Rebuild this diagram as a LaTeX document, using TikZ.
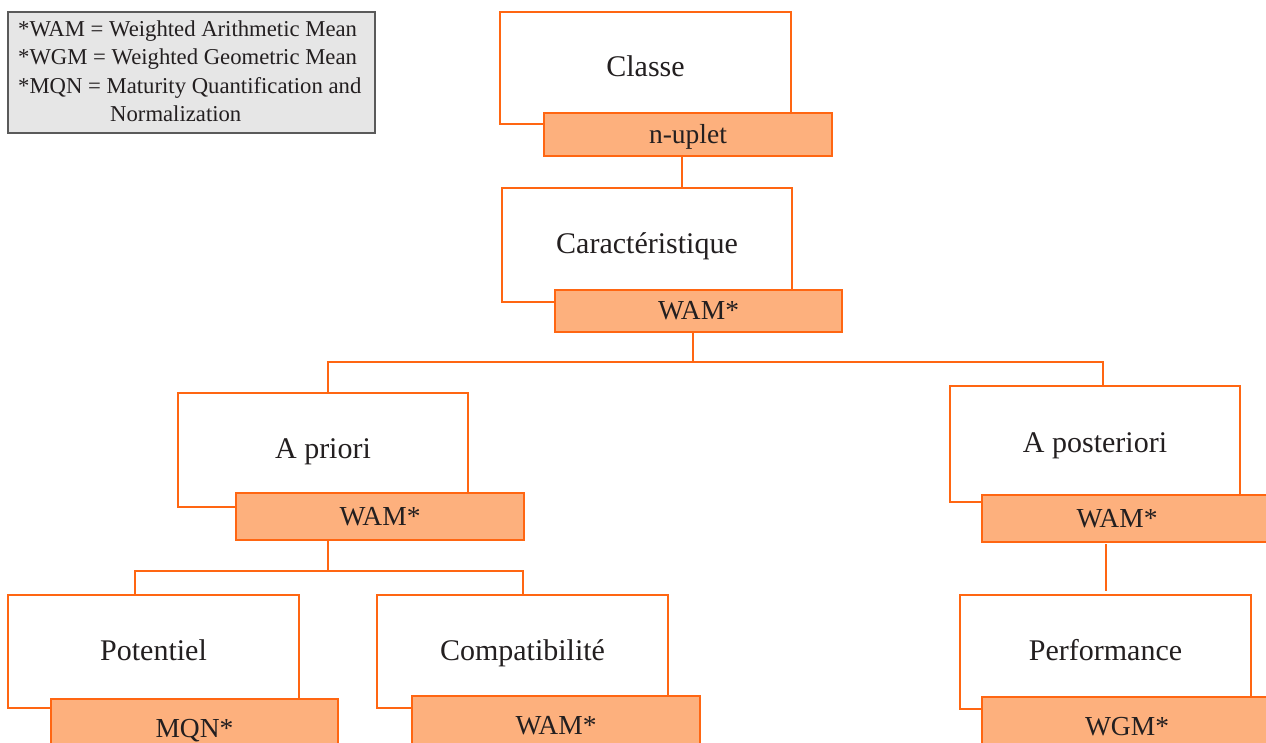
\documentclass[tikz,border=0pt]{standalone}
\usepackage{fontspec}
\setmainfont{Liberation Serif}
\definecolor{org}{HTML}{FF6612}
\definecolor{tabfill}{HTML}{FDB07D}
\definecolor{legfill}{HTML}{E6E6E6}
\definecolor{legline}{HTML}{5A5A5A}
\definecolor{txt}{HTML}{231F20}
\tikzset{
  box/.style={draw=org, line width=2.4pt, fill=white, inner sep=0pt, outer sep=0pt,
    text=txt, font=\fontsize{30}{33}\selectfont, text height=19pt, text depth=2pt},
  tab/.style={draw=org, line width=2.4pt, fill=tabfill, inner sep=0pt, outer sep=0pt,
    text=txt, font=\fontsize{27.5}{30}\selectfont, text height=19pt, text depth=2pt},
  conn/.style={draw=org, line width=2.4pt},
  legtext/.style={anchor=base west, inner sep=0pt, text=txt, font=\fontsize{22.7}{28}\selectfont},
}
\begin{document}
\begin{tikzpicture}[x=1pt,y=-1pt]
\useasboundingbox (0,0) rectangle (1266,742);
\clip (0,0) rectangle (1266,742);

% legend
\node[draw=legline, line width=1.5pt, fill=legfill, minimum width=367pt, minimum height=121pt, inner sep=0pt] (leg) at (191.5,72.5) {};
\node[legtext] (leg1) at (18,36) {*WAM = Weighted Arithmetic Mean};
\node[legtext] (leg2) at (18,64.5) {*WGM = Weighted Geometric Mean};
\node[legtext] (leg3) at (18,93) {*MQN = Maturity Quantification and};
\node[legtext] (leg4) at (110,121.5) {Normalization};

% white boxes
\node[box, minimum width=291pt, minimum height=112pt] (b1) at (645.5,68) {Classe};
\node[box, minimum width=290pt, minimum height=114pt] (b2) at (647,245) {Caractéristique};
\node[box, minimum width=290pt, minimum height=114pt] (b3) at (323,450) {A priori};
\node[box, minimum width=290pt, minimum height=116pt] (b4) at (1095,444) {A posteriori};
\node[box, minimum width=291pt, minimum height=113pt] (b5) at (153.5,651.5) {Potentiel};
\node[box, minimum width=291pt, minimum height=113pt] (b6) at (522.5,651.5) {Compatibilité};
\node[box, minimum width=291pt, minimum height=114pt] (b7) at (1105.5,652) {Performance};

% tabs
\node[tab, minimum width=288pt, minimum height=43pt] (t1) at (688,134.5) {n-uplet};
\node[tab, minimum width=287pt, minimum height=42pt] (t2) at (698.5,311) {WAM*};
\node[tab, minimum width=288pt, minimum height=47pt] (t3) at (380,516.5) {WAM*};
\node[tab, minimum width=290pt, minimum height=47pt] (t4) at (1127,518.5) {\hspace*{-20pt}WAM*};
\node[tab, minimum width=287pt, minimum height=60pt] (t5) at (194.5,729) {MQN*};
\node[tab, minimum width=288pt, minimum height=60pt] (t6) at (556,726) {WAM*};
\node[tab, minimum width=290pt, minimum height=60pt] (t7) at (1127,727) {WGM*};

% connectors
\coordinate (v1) at (682,0);
\draw[conn] (t1.south -| v1) -- (b2.north -| v1);

\coordinate (h1) at (693,362);
\coordinate (h1L) at (328,362);
\coordinate (h1R) at (1103,362);
\draw[conn] (t2.south -| h1) -- (h1);
\draw[conn] (b3.north -| h1L) -- (h1L) -- (h1R) -- (b4.north -| h1R);

\coordinate (h2) at (328,571);
\coordinate (h2L) at (135,571);
\coordinate (h2R) at (523,571);
\draw[conn] (t3.south -| h2) -- (h2);
\draw[conn] (b5.north -| h2L) -- (h2L) -- (h2R) -- (b6.north -| h2R);

\coordinate (v2) at (1106,0);
\draw[conn, shorten <=2pt, shorten >=4pt] (t4.south -| v2) -- (b7.north -| v2);
\end{tikzpicture}
\end{document}
